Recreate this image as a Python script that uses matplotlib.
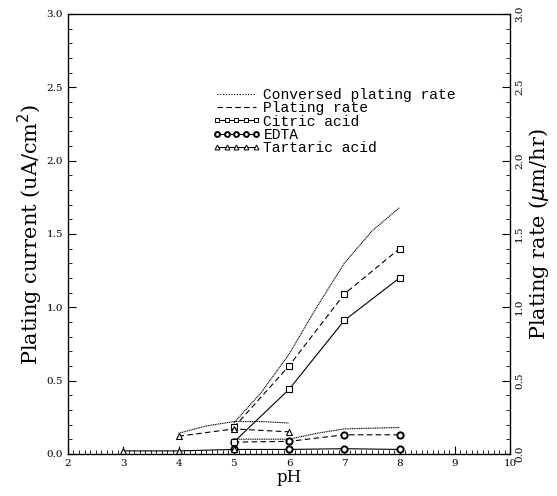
import numpy as np
import matplotlib.pyplot as plt
from matplotlib.lines import Line2D
from matplotlib.ticker import MultipleLocator

# citric acid
ph_citric = [5, 6, 7, 8]
citric_current = [0.08, 0.44, 0.91, 1.20]
citric_rate = [0.18, 0.60, 1.09, 1.40]
ph_citric_conv = [5, 5.5, 6, 6.5, 7, 7.5, 8]
citric_conv = [0.21, 0.42, 0.68, 1.00, 1.30, 1.52, 1.68]

# EDTA
ph_edta = [5, 6, 7, 8]
edta_current = [0.03, 0.03, 0.035, 0.03]
edta_rate = [0.08, 0.085, 0.13, 0.13]
ph_edta_conv = [5, 6, 6.5, 7, 8]
edta_conv = [0.10, 0.10, 0.14, 0.17, 0.18]

# tartaric acid
ph_tart = [3, 4, 5]
tart_current = [0.02, 0.02, 0.03]
ph_tart_rate = [4, 5, 6]
tart_rate = [0.12, 0.17, 0.15]
ph_tart_conv = [4, 4.5, 5, 5.5, 6]
tart_conv = [0.14, 0.19, 0.22, 0.22, 0.21]

plt.rcParams['font.family'] = 'DejaVu Serif'

fig = plt.figure(figsize=(5.57, 4.96), dpi=100)
ax = fig.add_axes([0.122, 0.085, 0.794, 0.887])

lw = 0.8
conv_style = (0, (1, 0.6))
dash_style = (0, (5, 3))

# conversed plating rate
ax.plot(ph_citric_conv, citric_conv, color="black", lw=lw, linestyle=conv_style)
ax.plot(ph_edta_conv, edta_conv, color="black", lw=lw, linestyle=conv_style)
ax.plot(ph_tart_conv, tart_conv, color="black", lw=lw, linestyle=conv_style)

# plating rate (dashed)
ax.plot(ph_citric, citric_rate, color="black", lw=lw, linestyle=dash_style,
        marker="s", ms=4.5, mfc="white", mec="black", mew=0.8)
ax.plot(ph_edta, edta_rate, color="black", lw=lw, linestyle=dash_style,
        marker="o", ms=4.5, mfc="white", mec="black", mew=1.4)
ax.plot(ph_tart_rate, tart_rate, color="black", lw=lw, linestyle=dash_style,
        marker="^", ms=5, mfc="white", mec="black", mew=0.8)

# plating current (solid)
ax.plot(ph_citric, citric_current, color="black", lw=lw,
        marker="s", ms=4.5, mfc="white", mec="black", mew=0.8)
ax.plot(ph_edta, edta_current, color="black", lw=lw,
        marker="o", ms=4.5, mfc="white", mec="black", mew=1.4)
ax.plot(ph_tart, tart_current, color="black", lw=lw,
        marker="^", ms=5, mfc="white", mec="black", mew=0.8)

ax.set_xlim(2, 10)
ax.set_ylim(0, 3)
ax.xaxis.set_major_locator(MultipleLocator(1))
ax.xaxis.set_minor_locator(MultipleLocator(0.1))
ax.yaxis.set_major_locator(MultipleLocator(0.5))
ax.yaxis.set_minor_locator(MultipleLocator(0.1))
ax.yaxis.set_major_formatter(plt.FormatStrFormatter("%.1f"))
ax.tick_params(which="both", direction="in", top=False, right=False, labelsize=7.5)
ax.tick_params(which="major", length=6, width=0.8)
ax.tick_params(which="minor", length=3, width=0.6)
for s in ax.spines.values():
    s.set_linewidth(0.9)

ax.set_xlabel("pH", fontsize=12, labelpad=1)
ax.set_ylabel("Plating current (uA/cm$^2$)", fontsize=15, labelpad=1)

ax2 = ax.twinx()
ax2.set_ylim(0, 3)
ax2.yaxis.set_major_locator(MultipleLocator(0.5))
ax2.yaxis.set_minor_locator(MultipleLocator(0.1))
ax2.yaxis.set_major_formatter(plt.FormatStrFormatter("%.1f"))
ax2.tick_params(which="both", direction="in", labelsize=7.5)
ax2.tick_params(which="major", length=6, width=0.8)
ax2.tick_params(which="minor", length=3, width=0.6)
for lab in ax2.get_yticklabels():
    lab.set_rotation(90)
    lab.set_va("center")
ax2.set_ylabel("Plating rate ($\\mu$m/hr)", fontsize=15, labelpad=2)

handles = [
    Line2D([], [], color="black", lw=lw, linestyle=(0, (1, 1.5))),
    Line2D([], [], color="black", lw=lw, linestyle=dash_style),
    Line2D([], [], color="black", lw=lw, marker="s", ms=3.5, mfc="white", mec="black", mew=0.7),
    Line2D([], [], color="black", lw=lw, marker="o", ms=3.5, mfc="white", mec="black", mew=1.4),
    Line2D([], [], color="black", lw=lw, marker="^", ms=3.5, mfc="white", mec="black", mew=0.7),
]
labels = ["Conversed plating rate", "Plating rate", "Citric acid", "EDTA", "Tartaric acid"]
ax.legend(handles, labels, loc="upper left", bbox_to_anchor=(0.31, 0.848),
          frameon=False, numpoints=5, handlelength=3.3, handletextpad=0.2,
          labelspacing=-0.05, borderpad=0,
          prop={"family": "Liberation Mono", "size": 10.5})

fig.savefig("out.png", dpi=100)
